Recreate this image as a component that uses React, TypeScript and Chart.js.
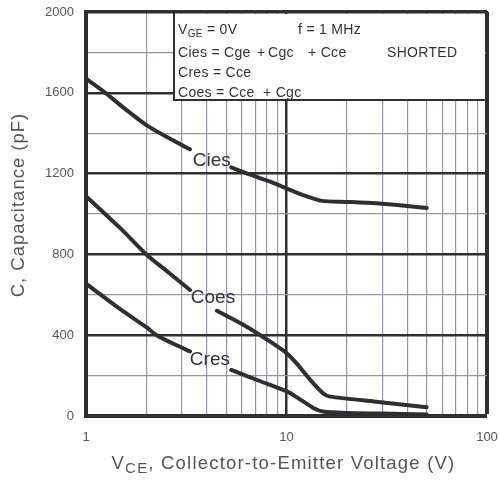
import { useEffect, useRef } from 'react';
import { Chart, registerables } from 'chart.js';

Chart.register(...registerables);

// ---- data ----
const ciesX = [1, 1.25, 1.5, 2, 2.6, 3.3, 4.2, 5.3, 6.5, 8.3, 10, 12, 15, 20, 28, 40, 50];
const ciesY = [1670, 1600, 1535, 1440, 1375, 1320, null, 1231, 1197, 1160, 1127, 1095, 1065, 1060, 1053, 1040, 1030];

const coesX = [1, 1.5, 2, 2.6, 3.3, 3.9, 4.5, 6, 7.4, 9, 10, 11.2, 13.1, 15.2, 16.5, 28, 50];
const coesY = [1088, 925, 800, 708, 624, null, 521, 455, 400, 345, 312, 262, 180, 113, 96, 71, 43];

const cresX = [1, 1.5, 2, 2.25, 2.7, 3.3, 4.2, 5.3, 7.4, 10, 11.7, 13.6, 15.2, 20, 30, 50];
const cresY = [655, 525, 440, 400, 360, 320, null, 228, 172, 123, 82, 40, 22, 15, 12, 8];

const xTickValues = [1, 2, 3, 4, 5, 6, 7, 8, 9, 10, 20, 30, 40, 50, 60, 70, 80, 90, 100];
const xLabelValues = [1, 10, 100];
const yLabelStep = 400;

const curveLabels = [
  { text: 'Cies', x: 4.24, y: 1263 },
  { text: 'Coes', x: 4.3, y: 584 },
  { text: 'Cres', x: 4.15, y: 277 },
];

const FONT = "'Liberation Sans', Arial, sans-serif";
const DARK = '#2f2f2f';
const MINOR = '#9494ac';
const TEXT = '#555555';

function toPts(xs: number[], ys: (number | null)[]) {
  return xs.map((x, i) => ({ x, y: ys[i] }));
}

const overlay = {
  id: 'overlay',
  afterDraw(chart: any) {
    const { ctx, chartArea: a, scales } = chart;
    const xs = scales.x;
    const ys = scales.y;
    ctx.save();

    // curve labels
    ctx.fillStyle = '#333';
    ctx.font = `19px ${FONT}`;
    ctx.textAlign = 'center';
    ctx.textBaseline = 'middle';
    for (const l of curveLabels) {
      ctx.fillText(l.text, xs.getPixelForValue(l.x), ys.getPixelForValue(l.y));
    }

    // annotation box
    const bx = a.left + 88;
    const by = a.top;
    const bw = a.right - bx;
    const bh = 88;
    ctx.fillStyle = '#fff';
    ctx.fillRect(bx, by + 2, bw - 2, bh - 2);
    ctx.strokeStyle = DARK;
    ctx.lineWidth = 2;
    ctx.strokeRect(bx, by, bw, bh);

    ctx.fillStyle = '#333';
    ctx.textAlign = 'left';
    ctx.textBaseline = 'alphabetic';
    (ctx as any).letterSpacing = '0.3px';
    const tx = bx + 4;
    ctx.font = `14px ${FONT}`;
    ctx.fillText('V', tx, by + 22);
    const vw = ctx.measureText('V').width;
    ctx.font = `10px ${FONT}`;
    ctx.fillText('GE', tx + vw, by + 25);
    const gw = ctx.measureText('GE').width;
    ctx.font = `14px ${FONT}`;
    ctx.fillText(' = 0V', tx + vw + gw, by + 22);
    ctx.fillText('f = 1 MHz', bx + 124, by + 22);

    ctx.fillText('Cies = Cge', tx, by + 44.5);
    ctx.fillText('+', bx + 83, by + 44.5);
    ctx.fillText('Cgc', bx + 94, by + 44.5);
    ctx.fillText('+ Cce', bx + 134, by + 44.5);
    ctx.fillText('SHORTED', bx + 213, by + 44.5);

    ctx.fillText('Cres = Cce', tx, by + 64.5);

    ctx.fillText('Coes = Cce', tx, by + 84.5);
    ctx.fillText('+ Cgc', bx + 89, by + 84.5);

    // axis titles
    ctx.fillStyle = TEXT;
    (ctx as any).letterSpacing = '1.2px';
    const main = `18.5px ${FONT}`;
    const sub = `15px ${FONT}`;
    ctx.font = main;
    const w1 = ctx.measureText('V').width;
    const rest = ', Collector-to-Emitter Voltage (V)';
    const w3 = ctx.measureText(rest).width;
    ctx.font = sub;
    const w2 = ctx.measureText('CE').width;
    const total = w1 + w2 + w3;
    const cx = 283.5;
    let px = cx - total / 2;
    const base = 468.5;
    ctx.font = main;
    ctx.fillText('V', px, base);
    px += w1;
    ctx.font = sub;
    ctx.fillText('CE', px, base + 4);
    px += w2;
    ctx.font = main;
    ctx.fillText(rest, px, base);

    // y title
    (ctx as any).letterSpacing = '1px';
    ctx.translate(19, 205);
    ctx.rotate(-Math.PI / 2);
    ctx.textAlign = 'center';
    ctx.textBaseline = 'middle';
    ctx.font = main;
    ctx.fillText('C, Capacitance (pF)', 0, 0);

    (ctx as any).letterSpacing = '0px';
    ctx.restore();
  },
};

export default function App() {
  const ref = useRef<HTMLCanvasElement | null>(null);

  useEffect(() => {
    if (!ref.current) return;
    const lineStyle = {
      borderColor: DARK,
      borderWidth: 4,
      pointRadius: 0,
      tension: 0.25,
      spanGaps: false,
      borderCapStyle: 'round' as const,
      borderJoinStyle: 'round' as const,
      fill: false,
    };
    const chart = new Chart(ref.current, {
      type: 'line',
      data: {
        datasets: [
          { label: 'Cies', data: toPts(ciesX, ciesY) as any, ...lineStyle },
          { label: 'Coes', data: toPts(coesX, coesY) as any, ...lineStyle },
          { label: 'Cres', data: toPts(cresX, cresY) as any, ...lineStyle },
        ],
      },
      options: {
        responsive: false,
        animation: false,
        parsing: false as any,
        layout: { padding: { top: 12, right: 12, left: 0, bottom: 0 } },
        plugins: {
          legend: { display: false },
          tooltip: { enabled: false },
          title: { display: false },
        },
        scales: {
          x: {
            type: 'logarithmic',
            min: 1,
            max: 100,
            afterBuildTicks: (scale: any) => {
              scale.ticks = xTickValues.map((v) => ({ value: v }));
            },
            afterFit: (scale: any) => {
              scale.height = 65;
              scale.paddingLeft = 0;
              scale.paddingRight = 0;
            },
            ticks: {
              autoSkip: false,
              maxRotation: 0,
              minRotation: 0,
              padding: 14,
              color: TEXT,
              font: { family: FONT, size: 13 },
              callback: (v: any) => (xLabelValues.includes(Number(v)) ? String(v) : ''),
            },
            grid: {
              drawTicks: false,
              color: (c: any) => {
                const v = c.tick?.value;
                return v === 10 || v === 100 || v === 1 ? DARK : MINOR;
              },
              lineWidth: (c: any) => {
                const v = c.tick?.value;
                if (v === 100) return 4;
                if (v === 10) return 2.5;
                if (v === 1) return 0;
                return 1.2;
              },
            },
            border: { display: true, color: DARK, width: 4 },
          },
          y: {
            type: 'linear',
            min: 0,
            max: 2000,
            afterFit: (scale: any) => {
              scale.width = 86;
              scale.paddingTop = 0;
              scale.paddingBottom = 0;
            },
            ticks: {
              stepSize: 200,
              padding: 12,
              color: TEXT,
              font: { family: FONT, size: 13 },
              callback: (v: any) => (Number(v) % yLabelStep === 0 ? String(v) : ''),
            },
            grid: {
              drawTicks: false,
              color: (c: any) => {
                const v = c.tick?.value;
                return v % yLabelStep === 0 ? DARK : MINOR;
              },
              lineWidth: (c: any) => {
                const v = c.tick?.value;
                if (v === 2000) return 3.5;
                if (v === 0) return 0;
                if (v % yLabelStep === 0) return 2.5;
                return 1.2;
              },
            },
            border: { display: true, color: DARK, width: 4 },
          },
        },
      },
      plugins: [overlay],
    });
    return () => chart.destroy();
  }, []);

  return (
    <div style={{ position: 'absolute', left: 0, top: 0, width: 499, height: 481, background: '#fff' }}>
      <canvas ref={ref} width={499} height={481} style={{ display: 'block' }} />
    </div>
  );
}
